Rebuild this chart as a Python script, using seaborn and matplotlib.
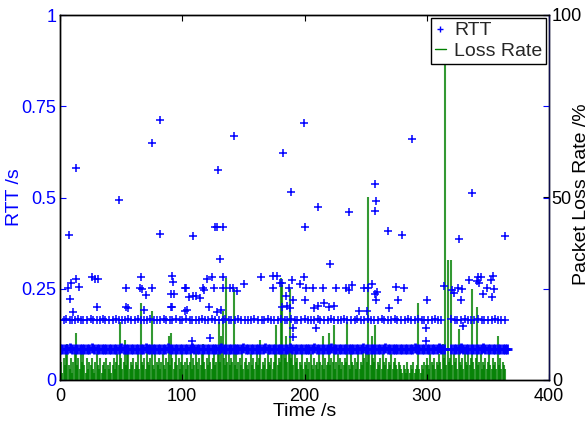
import numpy as np
import pandas as pd
import matplotlib
matplotlib.use("Agg")
import matplotlib.pyplot as plt
from matplotlib.lines import Line2D
import seaborn as sns

# ---------------- data ----------------
# Loss rate (%), one value per second, t = 0 .. 364 s
loss_rate = [
    3, 5, 2, 6, 4, 7, 10, 4, 3, 6, 2, 5, 8, 13, 4, 6, 3, 7, 5, 8,
    4, 2, 6, 3, 5, 4, 6, 3, 2, 5, 7, 4, 3, 6, 2, 4, 5, 3, 6, 4,
    3, 5, 2, 4, 6, 3, 5, 7, 4, 16, 6, 3, 5, 11, 4, 7, 8, 3, 5, 4,
    6, 3, 5, 4, 7, 3, 21, 5, 4, 6, 3, 8, 5, 4, 6, 19, 4, 3, 7, 5,
    4, 6, 3, 5, 7, 4, 3, 6, 5, 12, 4, 13, 6, 3, 5, 7, 4, 6, 3, 5,
    7, 4, 5, 3, 6, 4, 5, 7, 3, 6, 4, 8, 5, 3, 6, 4, 7, 10, 5, 3,
    6, 4, 7, 5, 3, 6, 8, 4, 5, 7, 16, 5, 12, 19, 6, 4, 28, 5, 7, 4,
    6, 5, 25, 4, 7, 3, 5, 6, 4, 7, 3, 5, 6, 4, 3, 5, 7, 4, 6, 3,
    5, 7, 4, 6, 11, 3, 5, 4, 6, 3, 7, 5, 4, 6, 3, 5, 7, 15, 4, 6,
    5, 28, 26, 7, 6, 12, 5, 8, 25, 6, 9, 4, 7, 5, 6, 3, 5, 4, 7, 3,
    5, 4, 6, 3, 5, 7, 4, 3, 6, 4, 5, 3, 7, 5, 4, 12, 3, 6, 4, 5,
    13, 4, 6, 5, 15, 3, 5, 7, 4, 6, 3, 5, 4, 6, 5, 16, 4, 3, 7, 5,
    4, 6, 3, 5, 7, 3, 5, 4, 8, 6, 9, 5, 50, 7, 4, 12, 6, 5, 15, 3,
    5, 4, 6, 3, 7, 5, 4, 6, 3, 5, 4, 7, 3, 5, 6, 4, 3, 5, 4, 3,
    2, 4, 3, 2, 5, 3, 2, 4, 3, 5, 2, 3, 4, 21, 3, 2, 4, 3, 5, 4,
    6, 4, 3, 7, 5, 4, 6, 3, 5, 4, 7, 5, 3, 10, 6, 87, 4, 33, 5, 6,
    33, 4, 7, 5, 6, 3, 14, 5, 4, 6, 3, 8, 5, 4, 7, 4, 6, 25, 5, 3,
    6, 20, 4, 5, 7, 3, 5, 4, 6, 3, 5, 7, 4, 3, 6, 4, 5, 3, 12, 4,
    6, 3, 5, 4, 3,
]
loss_interval_s = 1.0

# RTT, lower band (ms), sampled every 2 s from t = 0 s (None = no sample)
rtt_low_ms = [
    85, 86, 84, 85, 87, 85, 84, 86, 85, 85, 84, 86, 85, 87, 84, 85, 86, 85, 84, 85,
    86, 85, 84, 85, 86, 87, 85, 84, 85, 86, 85, 84, 86, 85, 85, 87, 84, 85, 86, 85,
    84, 85, 86, 85, 87, 84, 85, 85, 86, 84, 85, 86, 85, 84, 87, 85, 86, 85, 84, 85,
    85, 86, 84, 85, 86, 85, 87, 84, 85, 86, 85, 85, 84, 86, 85, 87, 85, 84, 86, 85,
    85, 84, 86, 85, 87, 85, 84, 85, 86, 85, 84, 86, 85, 85, 87, 84, 85, 86, 85, 84,
    86, 85, 84, 85, 87, 86, 85, 84, 85, 86, 85, 87, 84, 85, 86, 85, 84, 85, 86, 85,
    85, 86, 84, 85, 87, 85, 84, 86, 85, 85, 84, 86, 85, 87, 84, 85, 86, 85, 84, 85,
    86, 85, 84, 85, 86, 87, 85, 84, 85, 86, 85, 84, 86, 85, 85, 87, 85, 84, None, None,
    85, 86, 84, 85, 87, 85, 84, 86, 85, 85, 84, 86, 85, 87, 84, 85, 86, 85, 84, 85,
    86, 85, 84, 85,
]
rtt_low_interval_s = 2.0

# RTT, upper band: sample times (s) and values (ms)
rtt_up_t = [
    0, 3, 5, 8, 10, 12, 15, 17, 19, 22,
    25, 27, 30, 33, 35, 37, 40, 43, 46, 48,
    51, 53, 56, 58, 61, 64, 66, 69, 71, 74,
    77, 79, 82, 85, 87, 90, 92, 95, 98, 100,
    103, 106, 108, 111, 114, 116, 119, 121, 124, 127,
    130, 133, 135, 138, 140, 143, 146, 148, 151, 154,
    156, 159, 162, 165, 167, 170, 173, 175, 178, 181,
    184, 186, 189, 192, 194, 197, 200, 203, 205, 208,
    211, 213, 216, 219, 222, 224, 227, 230, 232, 235,
    238, 241, 243, 246, 249, 252, 254, 257, 260, 263,
    265, 268, 271, 274, 276, 279, 282, 285, 287, 290,
    293, 296, 298, 301, 304, 307, 309, 312, 320, 323,
    325, 328, 331, 334, 336, 339, 342, 345, 347, 350,
    353, 356, 358, 361, 364,
]
rtt_up_ms = [
    165, 164, 166, 165, 165, 164, 166, 165, 164, 165,
    166, 165, 164, 165, 166, 165, 165, 164, 166, 165,
    164, 165, 166, 165, 164, 166, 165, 165, 164, 166,
    165, 164, 165, 166, 165, 164, 165, 166, 165, 164,
    166, 165, 164, 165, 165, 166, 164, 165, 166, 165,
    165, 164, 166, 165, 164, 165, 166, 165, 164, 165,
    164, 166, 165, 165, 164, 166, 165, 164, 165, 166,
    165, 164, 166, 165, 165, 164, 166, 165, 164, 165,
    166, 165, 164, 165, 166, 165, 165, 164, 166, 165,
    164, 165, 166, 165, 164, 166, 165, 165, 164, 166,
    165, 164, 165, 166, 165, 164, 165, 166, 165, 164,
    166, 165, 164, 165, 165, 166, 164, 165, 166, 165,
    165, 164, 166, 165, 164, 165, 166, 165, 164, 165,
    164, 166, 165, 165, 164,
]

# RTT outliers: times (s) and values (s)
rtt_out_t = [
    6.3, 7.4, 8.2, 9.0, 10.9, 12.8, 13.1, 15.5, 26.4, 28.6, 30.0, 30.8,
    48.5, 53.7, 53.7, 55.3, 65.7, 66.3, 66.8, 69.0, 70.1, 75.0, 75.0, 81.8,
    81.8, 90.4, 90.4, 91.3, 92.0, 92.4, 92.9, 102.2, 102.2, 103.0, 103.6, 105.8,
    107.7, 108.5, 109.0, 111.3, 114.5, 116.7, 117.8, 120.0, 121.6, 122.7, 124.6, 126.3,
    126.6, 128.2, 128.7, 129.2, 130.9, 131.5, 133.1, 133.1, 133.7, 139.1, 141.8, 142.3,
    144.6, 150.6, 164.2, 174.6, 174.6, 177.3, 180.0, 181.4, 181.7, 182.7, 184.9, 186.0,
    187.1, 188.2, 188.7, 189.8, 190.4, 190.9, 190.9, 196.4, 199.6, 199.6, 200.5, 200.5,
    201.0, 207.2, 208.0, 209.1, 210.7, 211.3, 215.4, 215.7, 220.0, 221.1, 223.8, 225.8,
    233.7, 236.5, 236.7, 238.7, 244.6, 249.0, 250.9, 252.3, 255.0, 257.7, 257.7, 258.0,
    258.5, 258.5, 259.1, 268.6, 269.4, 275.0, 276.5, 279.5, 281.4, 287.7, 299.3, 299.3,
    300.1, 314.1, 320.4, 322.3, 325.8, 326.1, 327.7, 328.5, 329.4, 334.9, 337.0, 340.8,
    342.0, 343.0, 344.0, 346.3, 349.6, 352.5, 353.8, 355.3, 353.0, 364.3,
]
rtt_out_s = [
    0.251, 0.397, 0.221, 0.267, 0.186, 0.277, 0.580, 0.254, 0.281, 0.278, 0.201, 0.278,
    0.493, 0.251, 0.201, 0.197, 0.251, 0.283, 0.249, 0.193, 0.234, 0.251, 0.648, 0.712,
    0.399, 0.235, 0.201, 0.285, 0.201, 0.268, 0.235, 0.251, 0.190, 0.252, 0.192, 0.228,
    0.108, 0.395, 0.230, 0.230, 0.226, 0.251, 0.247, 0.276, 0.201, 0.115, 0.282, 0.251,
    0.418, 0.418, 0.186, 0.574, 0.331, 0.193, 0.418, 0.251, 0.282, 0.251, 0.251, 0.669,
    0.244, 0.264, 0.281, 0.285, 0.251, 0.285, 0.267, 0.267, 0.200, 0.621, 0.229, 0.202,
    0.251, 0.198, 0.515, 0.273, 0.218, 0.143, 0.118, 0.263, 0.282, 0.703, 0.418, 0.219,
    0.251, 0.253, 0.198, 0.142, 0.203, 0.475, 0.251, 0.210, 0.200, 0.318, 0.204, 0.251,
    0.251, 0.246, 0.461, 0.260, 0.190, 0.251, 0.190, 0.251, 0.262, 0.536, 0.235, 0.464,
    0.491, 0.219, 0.240, 0.407, 0.197, 0.254, 0.219, 0.398, 0.251, 0.661, 0.142, 0.108,
    0.218, 0.258, 0.247, 0.238, 0.253, 0.387, 0.219, 0.250, 0.147, 0.274, 0.511, 0.272,
    0.283, 0.265, 0.283, 0.235, 0.251, 0.274, 0.285, 0.250, 0.228, 0.395,
]

x_ticks = [0, 100, 200, 300, 400]
rtt_ticks = [0, 0.25, 0.5, 0.75, 1]
rtt_tick_labels = ["0", "0.25", "0.5", "0.75", "1"]
loss_ticks = [0, 50, 100]
loss_tick_labels = ["0", "50", "100"]

# ---------------- assemble ----------------
low_vals = np.array([np.nan if v is None else v for v in rtt_low_ms], dtype=float) / 1000.0
low_t = np.arange(len(low_vals)) * rtt_low_interval_s
low_df = pd.DataFrame({"t": low_t, "rtt": low_vals}).dropna()
rest_df = pd.DataFrame({
    "t": np.concatenate([np.array(rtt_up_t, float), np.array(rtt_out_t, float)]),
    "rtt": np.concatenate([np.array(rtt_up_ms, float) / 1000.0, np.array(rtt_out_s, float)]),
})

loss_t = np.arange(len(loss_rate)) * loss_interval_s
loss_df = pd.DataFrame({"t": loss_t, "loss": np.array(loss_rate, float)})

# ---------------- style ----------------
sns.set_theme(style="white")
plt.rcParams["font.family"] = ["Liberation Sans", "DejaVu Sans"]
plt.rcParams["axes.linewidth"] = 1.0

BLUE = (0, 0, 1)
GREEN = (0, 0.5, 0)

fig = plt.figure(figsize=(5.87, 4.22), dpi=100)
ax = fig.add_axes([60 / 587, 42 / 422, 489 / 587, 365 / 422])
ax2 = ax.twinx()
# RTT axis drawn above the loss-rate axis
ax.set_zorder(ax2.get_zorder() + 1)
ax.patch.set_visible(False)
ax2.patch.set_visible(True)
ax2.patch.set_facecolor("white")

# Loss rate as vertical lines on the right axis
ax2.vlines(loss_df["t"], 0, loss_df["loss"], color=GREEN, linewidth=1.5, alpha=0.8)

# RTT scatter on the left axis
sns.scatterplot(data=low_df, x="t", y="rtt", ax=ax, marker="+", color=BLUE,
                s=42, linewidth=2.0, legend=False)
sns.scatterplot(data=rest_df, x="t", y="rtt", ax=ax, marker="+", color=BLUE,
                s=30, linewidth=1.1, legend=False)

ax.set_xlim(0, 400)
ax.set_ylim(0, 1)
ax2.set_ylim(0, 100)

ax.set_xticks(x_ticks)
ax.set_xticklabels([str(v) for v in x_ticks])
ax.set_yticks(rtt_ticks)
ax.set_yticklabels(rtt_tick_labels)
ax2.set_yticks(loss_ticks)
ax2.set_yticklabels(loss_tick_labels)

ax.tick_params(axis="x", direction="in", top=True, bottom=True, length=4,
               width=0.8, colors="black", labelsize=13, pad=6)
ax.tick_params(axis="y", direction="in", left=True, right=True, length=4,
               width=0.8, colors=BLUE, labelsize=13, pad=2.5)
ax2.tick_params(axis="y", direction="in", right=True, left=False, length=4,
                width=0.8, colors="black", labelsize=13, pad=2)

for sp in ax.spines.values():
    sp.set_color("black")
for sp in ax2.spines.values():
    sp.set_color("black")
ax.spines["right"].set_color((0.05, 0.05, 0.3))

ax.set_xlabel("Time /s", fontsize=14, color="black", labelpad=-1.5)
ax.set_ylabel("RTT /s", fontsize=14, color=BLUE, labelpad=-1)
ax2.set_ylabel("Packet Loss Rate /%", fontsize=14, color="black", rotation=90)
ax2.yaxis.set_label_coords(1.049, 0.51)
ax2.yaxis.label.set_verticalalignment("top")

handles = [
    Line2D([], [], marker="+", color=BLUE, linestyle="none", markersize=4, markeredgewidth=1.0),
    Line2D([], [], color=GREEN, linewidth=1.0),
]
leg = ax.legend(handles, ["RTT", "Loss Rate"], loc="upper right", fontsize=14,
                frameon=True, fancybox=False, edgecolor="black", framealpha=1,
                handlelength=0.6, handletextpad=0.4, borderpad=0.2,
                labelspacing=0.15, borderaxespad=0.15)
leg.get_frame().set_linewidth(1.0)

fig.savefig("out.png", dpi=100)
